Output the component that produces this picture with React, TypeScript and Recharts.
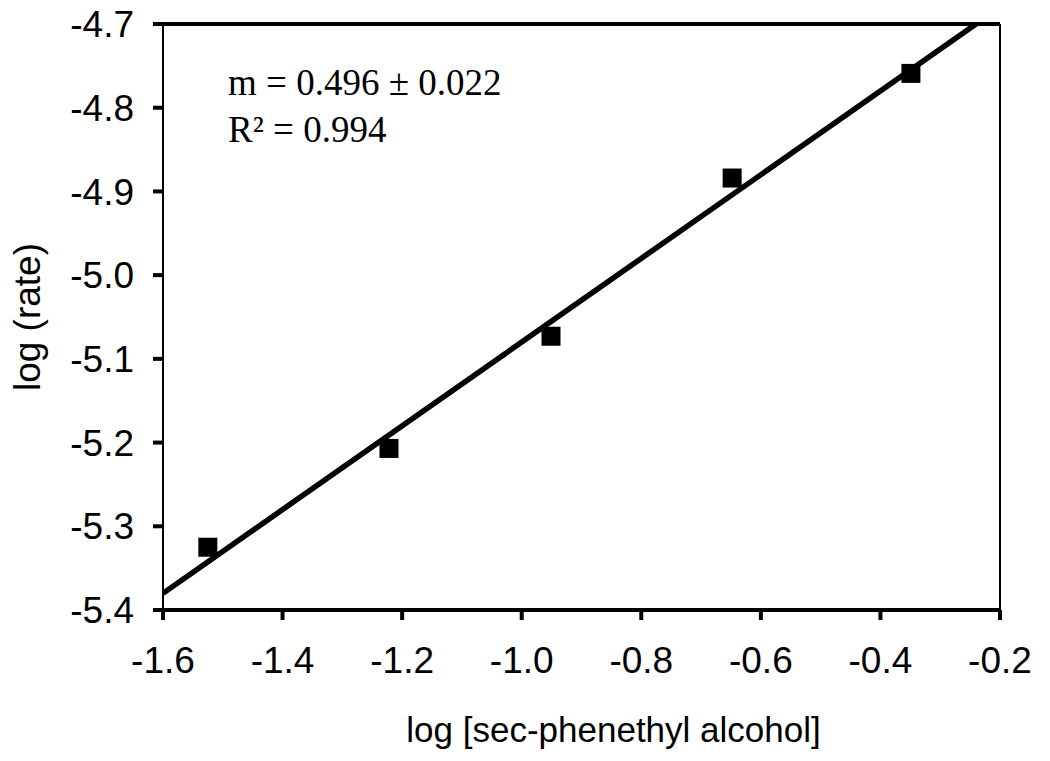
import React from "react";
import {
  ScatterChart,
  Scatter,
  XAxis,
  YAxis,
  ReferenceLine,
} from "recharts";

// measured points: log [sec-phenethyl alcohol] vs log (rate)
const logConc = [-1.525, -1.222, -0.951, -0.648, -0.349];
const logRate = [-5.325, -5.207, -5.073, -4.884, -4.759];

// least squares line end points as drawn in the figure
const fitX = [-1.6, -0.24];
const fitY = [-5.38, -4.7];

const xTicks = [-1.6, -1.4, -1.2, -1.0, -0.8, -0.6, -0.4, -0.2];
const yTicks = [-5.4, -5.3, -5.2, -5.1, -5.0, -4.9, -4.8, -4.7];

const points = logConc.map((x, i) => ({ x, y: logRate[i] }));
const fitLine = fitX.map((x, i) => ({ x, y: fitY[i] }));

const tickFont = { fontFamily: "Arial, 'Liberation Sans', sans-serif", fontSize: 37, fill: "#000" };

const SquareMark = (props: any) => {
  const { cx, cy } = props;
  if (cx == null || cy == null) return <g />;
  return <rect x={cx - 9.5} y={cy - 9.5} width={19} height={19} fill="#000" />;
};

export default function App() {
  return (
    <div style={{ position: "absolute", left: 0, top: 0, width: 1050, height: 761, background: "#fff" }}>
      <ScatterChart width={1050} height={761} margin={{ top: 24, right: 50, bottom: 0, left: 0 }}>
        <XAxis
          type="number"
          dataKey="x"
          domain={[-1.6, -0.2]}
          ticks={xTicks}
          tickFormatter={(v: number) => v.toFixed(1)}
          height={151}
          tick={tickFont}
          tickSize={10}
          tickMargin={27}
          axisLine={{ stroke: "#000", strokeWidth: 4 }}
          tickLine={{ stroke: "#000", strokeWidth: 4 }}
          allowDataOverflow
          label={{
            content: (p: any) => {
              const vb = p.viewBox;
              return (
                <text
                  x={vb.x + vb.width / 2 + 32}
                  y={vb.y + 132}
                  textAnchor="middle"
                  style={{ fontFamily: "Arial, 'Liberation Sans', sans-serif", fontSize: 35 }}
                  fill="#000"
                >
                  log [sec-phenethyl alcohol]
                </text>
              );
            },
          }}
        />
        <YAxis
          type="number"
          dataKey="y"
          domain={[-5.4, -4.7]}
          ticks={yTicks}
          tickFormatter={(v: number) => v.toFixed(1)}
          width={163}
          tick={tickFont}
          tickSize={10}
          tickMargin={19}
          axisLine={{ stroke: "#000", strokeWidth: 2 }}
          tickLine={{ stroke: "#000", strokeWidth: 4 }}
          allowDataOverflow
          label={{
            content: (p: any) => {
              const vb = p.viewBox;
              const cx = 27;
              const cy = vb.y + vb.height / 2;
              return (
                <text
                  x={cx}
                  y={cy}
                  transform={`rotate(-90, ${cx}, ${cy})`}
                  textAnchor="middle"
                  dominantBaseline="central"
                  style={{ fontFamily: "Arial, 'Liberation Sans', sans-serif", fontSize: 37 }}
                  fill="#000"
                >
                  log (rate)
                </text>
              );
            },
          }}
        />
        <ReferenceLine y={-4.7} stroke="#000" strokeWidth={4} />
        <ReferenceLine x={-0.2} stroke="#000" strokeWidth={2} />
        <Scatter
          data={fitLine}
          line={{ stroke: "#000", strokeWidth: 5.5 }}
          shape={() => <g />}
          isAnimationActive={false}
        />
        <Scatter data={points} shape={SquareMark} isAnimationActive={false} />
      </ScatterChart>
      <div
        style={{
          position: "absolute",
          left: 228,
          top: 59,
          fontFamily: "'Liberation Serif', 'Times New Roman', serif",
          fontSize: 37,
          lineHeight: "47px",
          color: "#000",
          whiteSpace: "nowrap",
        }}
      >
        <div>m = 0.496 ± 0.022</div>
        <div>R² = 0.994</div>
      </div>
    </div>
  );
}
